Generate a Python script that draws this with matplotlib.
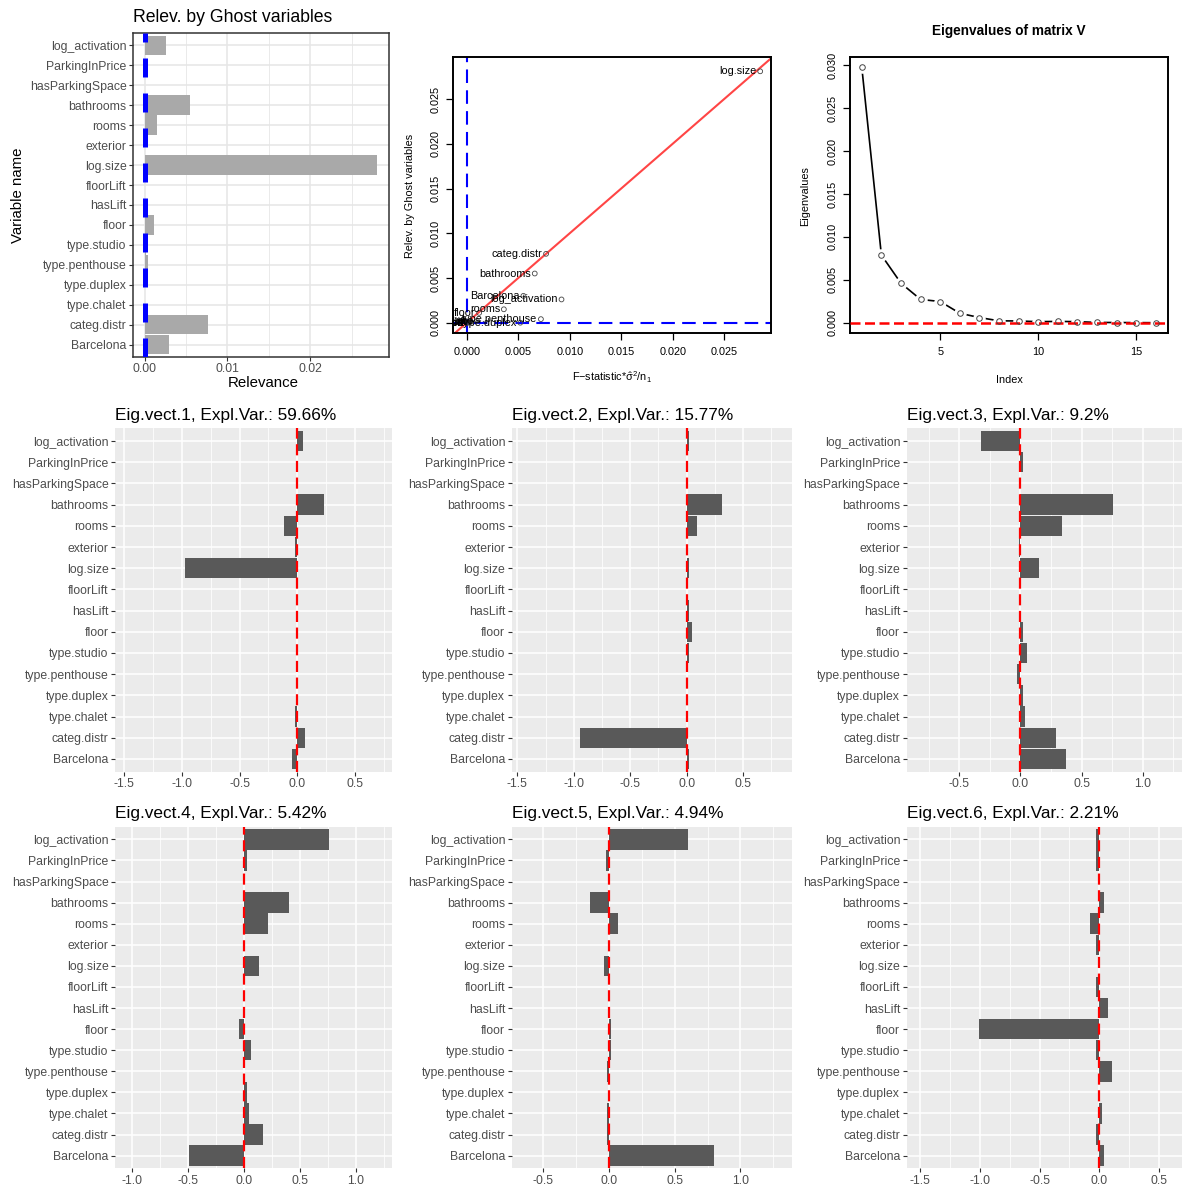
import numpy as np
import matplotlib
matplotlib.use("Agg")
import matplotlib.pyplot as plt
from matplotlib.ticker import MultipleLocator, FormatStrFormatter

plt.rcParams["font.family"] = ["Liberation Sans", "DejaVu Sans"]
plt.rcParams["mathtext.fontset"] = "custom"
plt.rcParams["mathtext.rm"] = "Liberation Sans"
plt.rcParams["mathtext.it"] = "Liberation Sans"
plt.rcParams["mathtext.default"] = "regular"

# --- Data ----------------------------------------------------------------

variables = [
    "log_activation", "ParkingInPrice", "hasParkingSpace", "bathrooms", "rooms",
    "exterior", "log.size", "floorLift", "hasLift", "floor", "type.studio",
    "type.penthouse", "type.duplex", "type.chalet", "categ.distr", "Barcelona",
]

# Relevance by ghost variables (top panel, left)
relevance = [0.0026, 0.0, 0.0, 0.0055, 0.0015, 0.0001, 0.0281, 0.0, 0.0001,
             0.0011, 0.0002, 0.0004, 0.0, 0.0001, 0.0077, 0.0030]

# F-statistic * sigma^2 / n1 (x of the scatter)
f_stat = [0.0092, 0.0, 0.0, 0.0066, 0.0036, 0.0002, 0.0285, 0.0001, 0.0003,
          0.0012, 0.0010, 0.0072, 0.0052, 0.0004, 0.0077, 0.0055]

# Eigenvalues of matrix V
eigenvalues = [0.0298, 0.00788, 0.0046, 0.00271, 0.00247, 0.0011, 0.0006,
               0.00022, 0.0002, 0.00012, 0.00015, 0.00012, 0.00003, 0.00002,
               0.00001, 0.0]

expl_var = ["59.66", "15.77", "9.2", "5.42", "4.94", "2.21"]

eig1 = [0.05, 0.0, 0.0, 0.237, -0.11, -0.023, -0.977, -0.003, 0.0, 0.0, 0.0,
        0.0, 0.0, -0.02, 0.064, -0.043]
eig2 = [0.024, 0.003, 0.0, 0.309, 0.094, 0.003, 0.024, 0.005, 0.024, 0.044,
        0.024, 0.003, 0.0, 0.002, -0.947, 0.024]
eig3 = [-0.32, 0.022, 0.0, 0.76, 0.336, -0.01, 0.153, -0.008, -0.005, 0.02,
        0.055, -0.025, 0.02, 0.038, 0.287, 0.369]
eig4 = [0.759, 0.024, 0.0, 0.40, 0.22, 0.003, 0.134, 0.003, 0.003, -0.042,
        0.06, 0.0, 0.024, 0.045, 0.17, -0.488]
eig5 = [0.60, -0.02, 0.0, -0.145, 0.069, 0.0, -0.038, -0.003, 0.0, 0.018,
        0.018, -0.018, 0.0, -0.018, -0.018, 0.80]
eig6 = [-0.028, -0.028, 0.0, 0.036, -0.075, -0.028, 0.0, -0.028, 0.072, -1.01,
        -0.028, 0.106, 0.0, 0.022, -0.028, 0.036]
eigvecs = [eig1, eig2, eig3, eig4, eig5, eig6]

# --- Layout helpers ---------------------------------------------------------

W, H = 1184, 1191
fig = plt.figure(figsize=(W / 100, H / 100), dpi=100)


def box(l, t, r, b):
    return [l / W, 1 - b / H, (r - l) / W, (b - t) / H]


def fx(x):
    return x / W


def fy(y):
    return 1 - y / H


def gg_bars(ax, vals, xlim, major, minor, fmt, bw, bar_color, vline_color,
            vline_lw, vline_dash):
    n = len(variables)
    pos = np.arange(1, n + 1)
    ax.barh(pos, vals, height=0.97, color=bar_color, zorder=2)
    ax.axvline(0, color=vline_color, lw=vline_lw, ls=(0, vline_dash), zorder=3)
    ax.set_xlim(*xlim)
    ax.set_ylim(n + 0.6, 0.4)
    ax.set_yticks(pos)
    ax.set_yticklabels(variables)
    ax.xaxis.set_major_locator(MultipleLocator(major))
    ax.xaxis.set_minor_locator(MultipleLocator(minor))
    ax.xaxis.set_major_formatter(FormatStrFormatter(fmt))
    ax.tick_params(which="major", length=3.2, width=0.8, color="#333333",
                   labelcolor="#4d4d4d", labelsize=8.8, pad=1.5)
    ax.tick_params(which="minor", length=0)
    ax.set_axisbelow(True)
    if bw:
        ax.set_facecolor("white")
        ax.grid(which="major", color="#e6e6e6", lw=1.1)
        ax.grid(which="minor", axis="x", color="#e6e6e6", lw=0.6)
        for s in ax.spines.values():
            s.set_color("#333333")
            s.set_linewidth(1.1)
    else:
        ax.set_facecolor("#ebebeb")
        ax.grid(which="major", color="white", lw=1.1)
        ax.grid(which="minor", axis="x", color="white", lw=0.55)
        for s in ax.spines.values():
            s.set_visible(False)


def base_axes(ax):
    for s in ax.spines.values():
        s.set_linewidth(1.4)
        s.set_color("black")
    ax.tick_params(direction="out", length=5, width=0.9, labelsize=7.8,
                   top=False, right=False)
    ax.tick_params(axis="x", pad=5)
    ax.tick_params(axis="y", labelrotation=90, pad=4)
    for lab in ax.get_yticklabels():
        lab.set_va("center")


# --- Relevance by Ghost variables --------------------------------------------

ax = fig.add_axes(box(133, 33.3, 389, 356.7))
gg_bars(ax, relevance, (-0.0014, 0.0295), 0.01, 0.005, "%.2f", True,
        "#a9a9a9", "blue", 3.6, (3.8, 3.2))
ax.set_title("Relev. by Ghost variables", loc="left", fontsize=12.7, pad=8)
fig.text(fx(263), fy(383), "Relevance", ha="center", va="center", fontsize=10.8)
fig.text(fx(18), fy(195), "Variable name", ha="center", va="center",
         rotation=90, fontsize=10.8)

# --- Scatter: F-statistic vs relevance ----------------------------------------

ax = fig.add_axes(box(453, 57, 771, 333))
ax.axline((0, 0), slope=1, color="#ff4545", lw=1.5, zorder=1)
ax.axvline(0, color="blue", lw=1.5, ls=(0, (6.5, 3.5)), zorder=2)
ax.axhline(0, color="blue", lw=1.5, ls=(0, (6.5, 3.5)), zorder=2)
ax.scatter(f_stat, relevance, s=12, facecolors="none", edgecolors="#444444",
           linewidths=0.6, zorder=3)
for name, x, y in zip(variables, f_stat, relevance):
    ax.annotate(name, (x, y), xytext=(-2.5, 0), textcoords="offset points",
                ha="right", va="center", fontsize=7.8, clip_on=True, zorder=4)
ax.set_xlim(-0.00134, 0.02955)
ax.set_ylim(-0.00115, 0.0297)
ax.xaxis.set_major_locator(MultipleLocator(0.005))
ax.yaxis.set_major_locator(MultipleLocator(0.005))
ax.xaxis.set_major_formatter(FormatStrFormatter("%.3f"))
ax.yaxis.set_major_formatter(FormatStrFormatter("%.3f"))
base_axes(ax)
fig.text(fx(612), fy(377), r"F$-$statistic*$\hat{\sigma}^2/n_1$", ha="center",
         va="center", fontsize=7.8)
fig.text(fx(410), fy(196), "Relev. by Ghost variables", ha="center",
         va="center", rotation=90, fontsize=7.8)

# --- Eigenvalues of matrix V --------------------------------------------------

ax = fig.add_axes(box(850, 56.7, 1167.7, 333))
idx = np.arange(1, len(eigenvalues) + 1)
ax.plot(idx, eigenvalues, color="black", lw=1.2, zorder=2)
ax.plot(idx, eigenvalues, "o", ms=8, mfc="white", mec="white", zorder=3)
ax.axhline(0, color="red", lw=1.8, ls=(0, (4, 1.8)), zorder=4)
ax.plot(idx, eigenvalues, "o", ms=4, mfc="none", mec="#444444", mew=0.7,
        zorder=5)
ax.set_xlim(0.4, 16.6)
ax.set_ylim(-0.0012, 0.031)
ax.set_xticks([5, 10, 15])
ax.yaxis.set_major_locator(MultipleLocator(0.005))
ax.yaxis.set_major_formatter(FormatStrFormatter("%.3f"))
base_axes(ax)
fig.text(fx(1009), fy(31), "Eigenvalues of matrix V", ha="center",
         va="center", fontsize=9.8, fontweight="bold")
fig.text(fx(1009), fy(380), "Index", ha="center", va="center", fontsize=7.8)
fig.text(fx(805), fy(196), "Eigenvalues", ha="center", va="center",
         rotation=90, fontsize=7.8)

# --- Eigenvector panels -------------------------------------------------------

cols = [(115, 391.7), (511.7, 791.7), (906.7, 1182)]
rows = [(428.3, 771.7), (826.7, 1168.3)]
xlims = [(-1.58, 0.82), (-1.55, 0.93), (-0.93, 1.32),
         (-1.15, 1.32), (-0.74, 1.39), (-1.61, 0.69)]

for k, vec in enumerate(eigvecs):
    l, r = cols[k % 3]
    t, b = rows[k // 3]
    ax = fig.add_axes(box(l, t, r, b))
    gg_bars(ax, vec, xlims[k], 0.5, 0.25, "%.1f", False, "#595959", "red",
            1.6, (5, 2.5))
    ax.set_title(f"Eig.vect.{k + 1}, Expl.Var.: {expl_var[k]}%", loc="left",
                 fontsize=12.4, pad=6)

fig.savefig("out.png", dpi=100)
